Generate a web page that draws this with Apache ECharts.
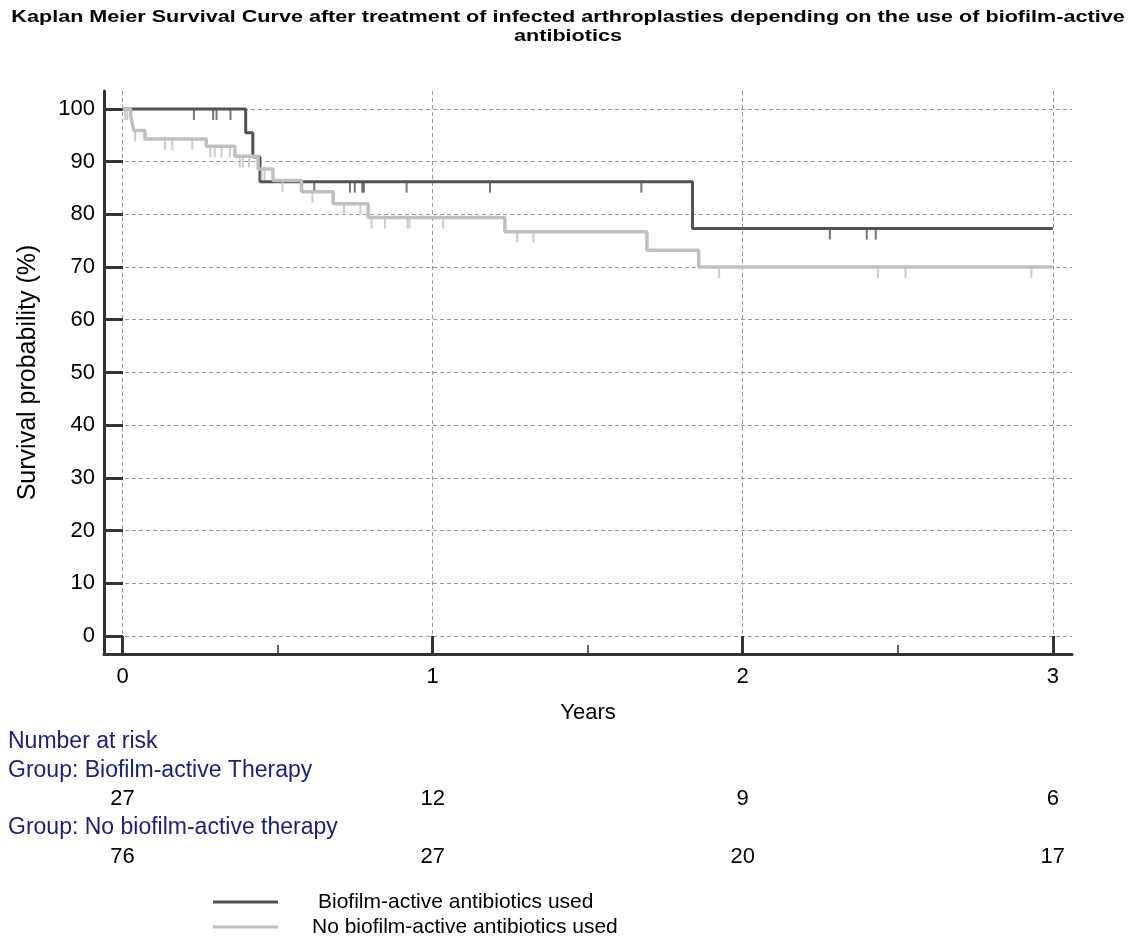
<!DOCTYPE html>
<html>
<head>
<meta charset="utf-8">
<script src="https://cdn.jsdelivr.net/npm/echarts@6/dist/echarts.min.js"></script>
<style>
  html, body { margin: 0; padding: 0; background: #fff; }
  #kmChart { width: 1137px; height: 947px; }
</style>
</head>
<body>
<div id="kmChart"></div>
<script>
// step curves, time in years, survival in %
const bioTime = [0, 0.397, 0.42, 0.443, 1.838, 3];
const bioSurv = [100, 95.5, 90.9, 86.2, 77.3, 77.3];
const noTime = [0, 0.026, 0.031, 0.036, 0.072, 0.27, 0.362, 0.437, 0.485, 0.577, 0.679, 0.792, 1.233, 1.691, 1.858, 3];
const noSurv = [100, 98.7, 97.3, 95.9, 94.3, 92.9, 91.0, 88.6, 86.4, 84.3, 82.0, 79.4, 76.7, 73.2, 70.0, 70.0];

// censored observations
const bioCensor = [0.23, 0.292, 0.303, 0.348, 0.618, 0.733, 0.749, 0.773, 0.778, 0.916, 1.185, 1.673, 2.281, 2.40, 2.429];
const noCensor = [0.008, 0.015, 0.04, 0.137, 0.16, 0.225, 0.283, 0.297, 0.319, 0.346, 0.378, 0.388, 0.408, 0.448, 0.458,
  0.516, 0.612, 0.714, 0.767, 0.803, 0.846, 0.919, 0.925, 1.034, 1.273, 1.325, 1.924, 2.436, 2.525, 2.931];

// number at risk table
const riskTimes = [0, 1, 2, 3];
const bioRisk = [27, 12, 9, 6];
const noRisk = [76, 27, 20, 17];

const xTicks = [0, 1, 2, 3];
const xMinorTicks = [0.5, 1.5, 2.5];
const yTicks = [0, 10, 20, 30, 40, 50, 60, 70, 80, 90, 100];

const bioName = 'Biofilm-active antibiotics used';
const noName = 'No biofilm-active antibiotics used';
const titleText = 'Kaplan Meier Survival Curve after treatment of infected arthroplasties depending on the use of biofilm-active\nantibiotics';
const font = "'Liberation Sans', Arial, sans-serif";

// survival value at time t on a step curve
const survAt = (times, surv, t) => {
  let v = surv[0];
  for (let i = 0; i < times.length; i++) {
    if (times[i] <= t) v = surv[i];
  }
  return v;
};

const pairs = (times, surv) => times.map((t, i) => [t, surv[i]]);
const censorPts = (cens, times, surv) => cens.map((t) => [t, survAt(times, surv, t)]);

const darkColor = '#525252';
const lightColor = '#c0c0c0';
const navy = '#1c1c86';

const kmChart = echarts.init(document.getElementById('kmChart'));

const baseX = {
  type: 'value',
  gridIndex: 0,
  position: 'bottom',
  min: -0.06,
  max: 3.062,
  axisLine: { show: false, onZero: false },
  axisTick: { show: false },
  axisLabel: { show: false },
  splitLine: { show: false }
};

const riskAxis = (offset, counts) => Object.assign({}, baseX, {
  offset: offset,
  axisLabel: {
    show: true,
    customValues: riskTimes,
    margin: 12,
    fontSize: 22,
    fontFamily: font,
    color: '#000',
    formatter: (v) => {
      const i = riskTimes.indexOf(v);
      return i >= 0 ? String(counts[i]) : '';
    }
  }
});

kmChart.setOption({
  animation: false,
  grid: { left: 104, right: 65, top: 91, bottom: 293, containLabel: false },
  legend: {
    data: [
      { name: bioName, textStyle: { padding: [0, 0, 0, 35] } },
      { name: noName, textStyle: { padding: [0, 0, 0, 29] } }
    ],
    orient: 'vertical',
    left: 208,
    top: 886,
    height: 60,
    icon: 'rect',
    itemWidth: 65,
    itemHeight: 3,
    itemGap: 3,
    textStyle: { fontFamily: font, fontSize: 21, lineHeight: 22, color: '#000' }
  },
  xAxis: [
    Object.assign({}, baseX, {
      name: 'Years',
      nameLocation: 'middle',
      nameGap: 48,
      nameTextStyle: { fontFamily: font, fontSize: 22, color: '#000' },
      axisLine: { show: true, onZero: false, lineStyle: { color: '#333', width: 3 } },
      axisTick: { show: true, inside: true, length: 18, customValues: xTicks, lineStyle: { color: '#333', width: 3 } },
      axisLabel: { show: true, customValues: xTicks, margin: 12, fontSize: 22, fontFamily: font, color: '#000' },
      splitLine: { show: true, lineStyle: { color: '#999', width: 1, type: [4, 3] } }
    }),
    Object.assign({}, baseX, {
      axisTick: { show: true, inside: true, length: 9, customValues: xMinorTicks, lineStyle: { color: '#333', width: 1.5 } }
    }),
    riskAxis(122, bioRisk),
    riskAxis(180, noRisk)
  ],
  yAxis: {
    type: 'value',
    min: -3.42,
    max: 103.4,
    name: 'Survival probability (%)',
    nameLocation: 'middle',
    nameGap: 63,
    nameTextStyle: { fontFamily: font, fontSize: 25, color: '#000' },
    axisLine: { show: true, onZero: false, lineStyle: { color: '#333', width: 3 } },
    axisTick: { show: true, inside: true, length: 19, customValues: yTicks, lineStyle: { color: '#333', width: 3 } },
    axisLabel: { customValues: yTicks, margin: 9, fontSize: 22, fontFamily: font, color: '#000' },
    splitLine: { show: true, lineStyle: { color: '#999', width: 1, type: [4, 3] } }
  },
  graphic: [
    {
      type: 'text', x: 568, y: 8, scaleX: 1.27,
      style: { text: titleText, textAlign: 'center', fontFamily: font, fontSize: 17, fontWeight: 'bold', lineHeight: 19, fill: '#000' }
    },
    { type: 'text', left: 8, top: 730, style: { text: 'Number at risk', fontFamily: font, fontSize: 23, fill: navy } },
    { type: 'text', left: 8, top: 759, style: { text: 'Group: Biofilm-active Therapy', fontFamily: font, fontSize: 23, fill: navy } },
    { type: 'text', left: 8, top: 816, style: { text: 'Group: No biofilm-active therapy', fontFamily: font, fontSize: 23, fill: navy } }
  ],
  series: [
    {
      name: bioName,
      type: 'line',
      step: 'end',
      symbol: 'none',
      data: pairs(bioTime, bioSurv),
      lineStyle: { color: darkColor, width: 3 },
      itemStyle: { color: darkColor },
      z: 3
    },
    {
      name: noName,
      type: 'line',
      step: 'end',
      symbol: 'none',
      data: pairs(noTime, noSurv),
      lineStyle: { color: lightColor, width: 3.5 },
      itemStyle: { color: lightColor },
      z: 4
    },
    {
      name: 'bioCensored',
      type: 'scatter',
      symbol: 'rect',
      symbolSize: [2, 11],
      symbolOffset: [0, 5.5],
      data: censorPts(bioCensor, bioTime, bioSurv),
      itemStyle: { color: darkColor },
      z: 3
    },
    {
      name: 'noCensored',
      type: 'scatter',
      symbol: 'rect',
      symbolSize: [2, 11],
      symbolOffset: [0, 5.5],
      data: censorPts(noCensor, noTime, noSurv),
      itemStyle: { color: lightColor },
      z: 4
    }
  ]
});

window.addEventListener('resize', () => kmChart.resize());
</script>
</body>
</html>
